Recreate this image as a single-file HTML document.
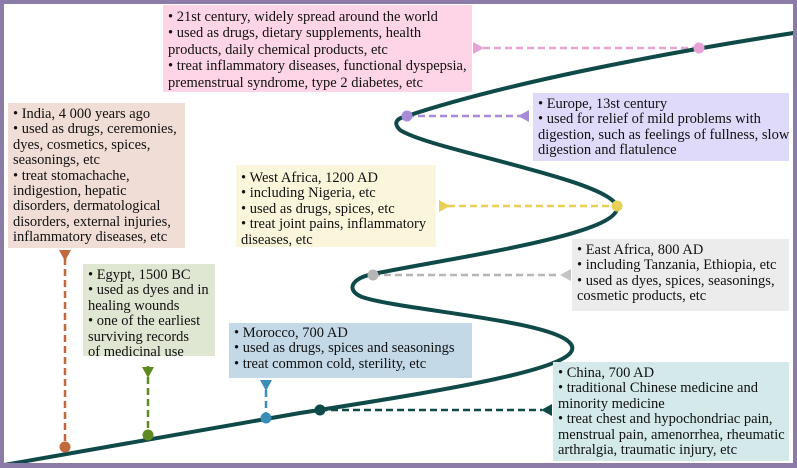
<!DOCTYPE html>
<html><head><meta charset="utf-8"><style>
html,body{margin:0;padding:0;background:#fff}
#c{position:relative;width:797px;height:468px;overflow:hidden;box-sizing:border-box;border:4px solid #8b7ba8;border-bottom-width:5px;background:#fff}
.b{position:absolute;font-family:"Liberation Serif",serif;font-size:14.5px;line-height:15.4px;color:#111;white-space:nowrap;padding:3px 5px;box-sizing:border-box;overflow:hidden}
svg{position:absolute;left:-4px;top:-4px}
</style></head><body><div id="c">
<svg width="797" height="468" viewBox="0 0 797 468">
<g stroke-width="2.5" stroke-dasharray="7,4" fill="none">
<line x1="483" y1="48" x2="699" y2="48" stroke="#e7a3d6"/>
<line x1="407" y1="116" x2="520" y2="116" stroke="#a98ad6"/>
<line x1="448" y1="206" x2="617" y2="206" stroke="#e8cf55"/>
<line x1="373" y1="275" x2="560" y2="275" stroke="#b5b5b5"/>
<line x1="320" y1="410" x2="542" y2="410" stroke="#0f4a48"/>
<line x1="65" y1="258" x2="65" y2="447" stroke="#c0693c"/>
<line x1="148" y1="366" x2="148" y2="435" stroke="#5e8a22"/>
<line x1="266" y1="390" x2="266" y2="418" stroke="#3a8db5"/>
</g>
<path d="M4,465 L300,413 C480,385 590,365 570,343 C550,320 400,310 362,297 C345,290 352,278 373,274 C450,258 620,235 617,207 C612,180 430,150 400,130 C392,122 398,118 407,116 C500,85 650,55 800,32" stroke="#0f4a48" stroke-width="4" fill="none"/>
<g>
<polygon points="473,42 484,48 473,54" fill="#e7a3d6"/>
<polygon points="529,110 518,116 529,122" fill="#a98ad6"/>
<polygon points="439,200 450,206 439,212" fill="#e8cf55"/>
<polygon points="571,269 560,275 571,281" fill="#c4c4c4"/>
<polygon points="552,404 541,410 552,416" fill="#0f4a48"/>
<polygon points="59,250 71,250 65,261" fill="#c0693c"/>
<polygon points="142,367 154,367 148,378" fill="#5e8a22"/>
<polygon points="260,380 272,380 266,391" fill="#3a8db5"/>
<circle cx="699" cy="48" r="5.5" fill="#e7a3d6"/>
<circle cx="407" cy="116" r="5.5" fill="#a98ad6"/>
<circle cx="617" cy="206" r="5.5" fill="#e8cf55"/>
<circle cx="373" cy="275" r="5.5" fill="#b5b5b5"/>
<circle cx="320" cy="410" r="5.5" fill="#0f4a48"/>
<circle cx="65" cy="447" r="5.5" fill="#c0693c"/>
<circle cx="148" cy="435" r="5.5" fill="#5e8a22"/>
<circle cx="266" cy="418" r="5.5" fill="#3a8db5"/>
</g>
</svg>
<div class="b" style="left:159px;top:1px;width:309px;height:87px;background:#fdd5e6;padding-top:4px;line-height:16.4px">• 21st century, widely spread around the world<br>• used as drugs, dietary supplements, health<br>products, daily chemical products, etc<br>• treat inflammatory diseases, functional dyspepsia,<br>premenstrual syndrome, type 2 diabetes, etc</div>
<div class="b" style="left:4px;top:99px;width:177px;height:145px;background:#f0ddd5;padding-top:4px">• India, 4 000 years ago<br>• used as drugs, ceremonies,<br>dyes, cosmetics, spices,<br>seasonings, etc<br>• treat stomachache,<br>indigestion, hepatic<br>disorders, dermatological<br>disorders, external injuries,<br>inflammatory diseases, etc</div>
<div class="b" style="left:232px;top:161px;width:200px;height:82px;background:#fbf5dc;padding-top:6px">• West Africa, 1200 AD<br>• including Nigeria, etc<br>• used as drugs, spices, etc<br>• treat joint pains, inflammatory<br>diseases, etc</div>
<div class="b" style="left:529px;top:89px;width:256px;height:68px;background:#e0dafa;padding-top:4px">• Europe, 13st century<br>• used for relief of mild problems with<br>digestion, such as feelings of fullness, slow<br>digestion and flatulence</div>
<div class="b" style="left:568px;top:235px;width:217px;height:72px;background:#ececec;padding-top:4px">• East Africa, 800 AD<br>• including Tanzania, Ethiopia, etc<br>• used as dyes, spices, seasonings,<br>cosmetic products, etc</div>
<div class="b" style="left:79px;top:260px;width:132px;height:92px;background:#dfe6d1;padding-top:4px">• Egypt, 1500 BC<br>• used as dyes and in<br>healing wounds<br>• one of the earliest<br>surviving records<br>of medicinal use</div>
<div class="b" style="left:225px;top:319px;width:243px;height:55px;background:#c3d9e7;padding-top:3px">• Morocco, 700 AD<br>• used as drugs, spices and seasonings<br>• treat common cold, sterility, etc</div>
<div class="b" style="left:549px;top:358px;width:236px;height:99px;background:#d4e9ea;padding-top:4px">• China, 700 AD<br>• traditional Chinese medicine and<br>minority medicine<br>• treat chest and hypochondriac pain,<br>menstrual pain, amenorrhea, rheumatic<br>arthralgia, traumatic injury, etc</div>
</div></body></html>
